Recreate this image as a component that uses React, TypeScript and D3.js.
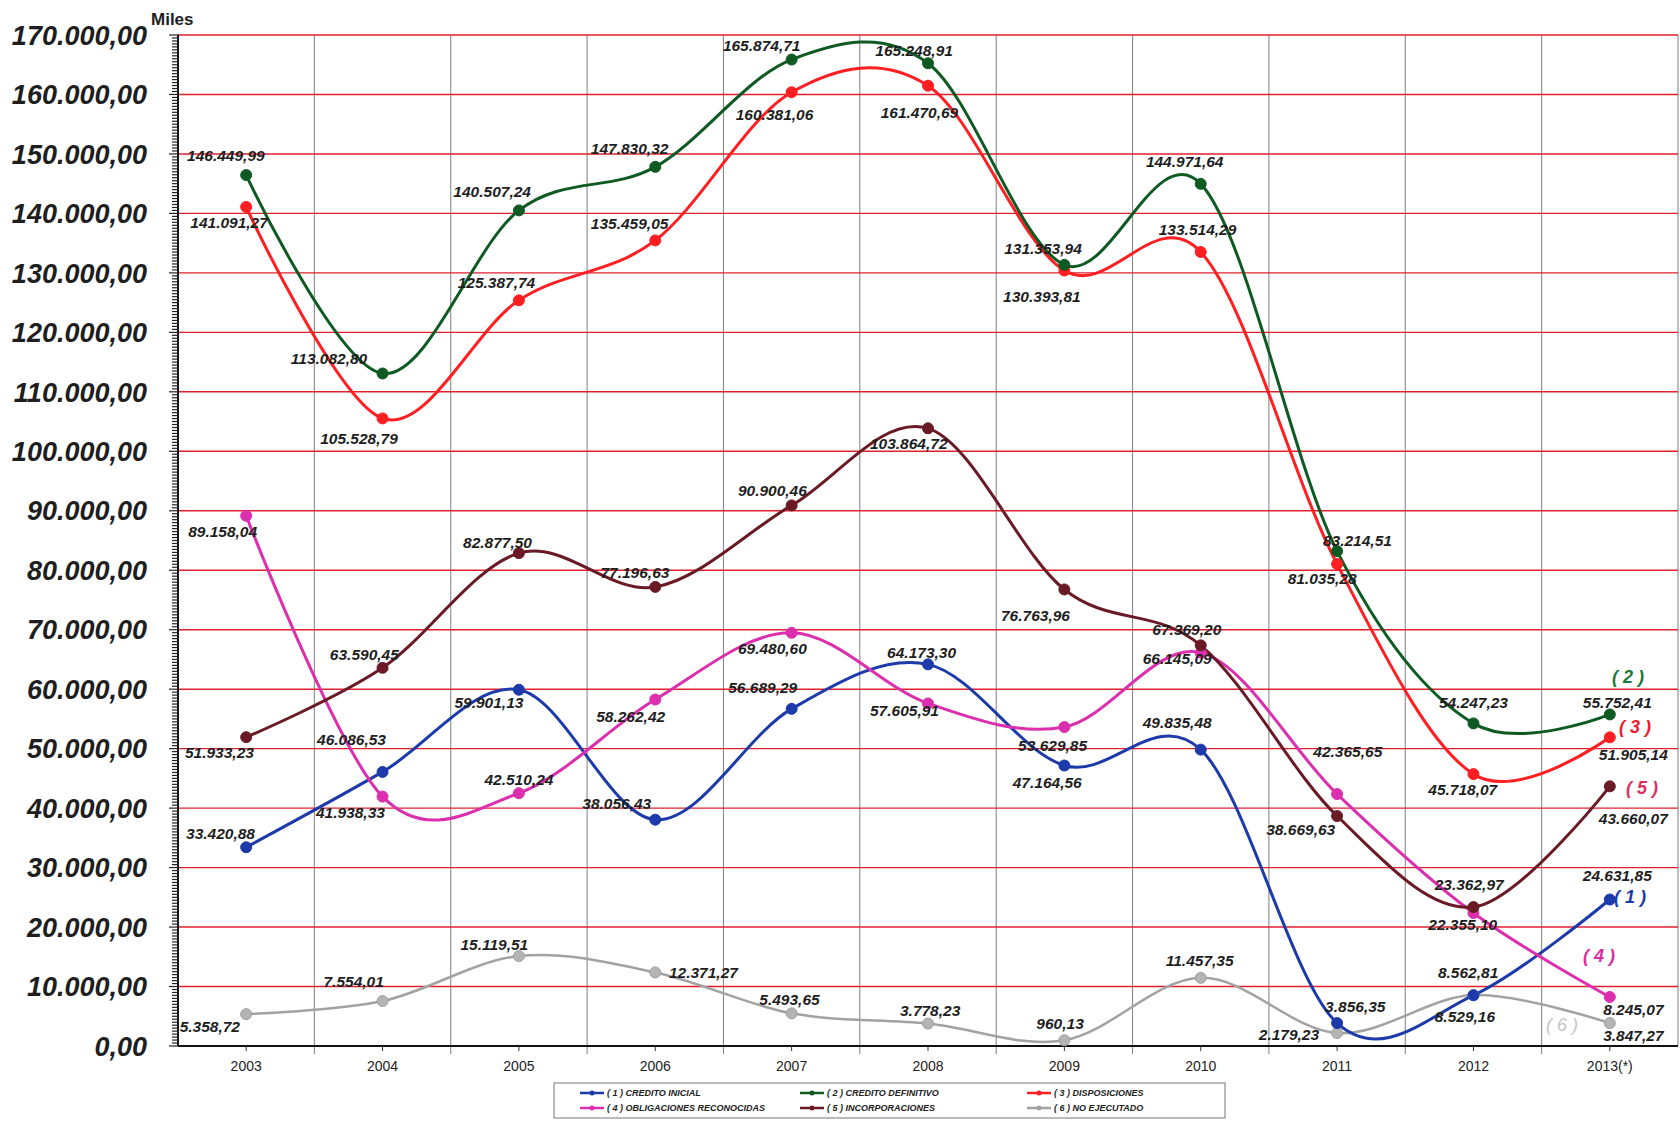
import React from "react";
import * as d3 from "d3";

// Categories (years) and the six series, in thousands of euros ("Miles")
const years = ["2003", "2004", "2005", "2006", "2007", "2008", "2009", "2010", "2011", "2012", "2013(*)"];

const creditoInicial = [33420.88, 46086.53, 59901.13, 38056.43, 56689.29, 64173.3, 47164.56, 49835.48, 3856.35, 8529.16, 24631.85];
const creditoDefinitivo = [146449.99, 113082.8, 140507.24, 147830.32, 165874.71, 165248.91, 131353.94, 144971.64, 83214.51, 54247.23, 55752.41];
const disposiciones = [141091.27, 105528.79, 125387.74, 135459.05, 160381.06, 161470.69, 130393.81, 133514.29, 81035.28, 45718.07, 51905.14];
const obligaciones = [89158.04, 41938.33, 42510.24, 58262.42, 69480.6, 57605.91, 53629.85, 66145.09, 42365.65, 22355.1, 8245.07];
const incorporaciones = [51933.23, 63590.45, 82877.5, 77196.63, 90900.46, 103864.72, 76763.96, 67369.2, 38669.63, 23362.97, 43660.07];
const noEjecutado = [5358.72, 7554.01, 15119.51, 12371.27, 5493.65, 3778.23, 960.13, 11457.35, 2179.23, 8562.81, 3847.27];

const seriesNames = [
  "( 1 ) CREDITO INICIAL",
  "( 2 ) CREDITO DEFINITIVO",
  "( 3 ) DISPOSICIONES",
  "( 4 ) OBLIGACIONES RECONOCIDAS",
  "( 5 ) INCORPORACIONES",
  "( 6 ) NO EJECUTADO",
];
const seriesTags = ["( 1 )", "( 2 )", "( 3 )", "( 4 )", "( 5 )", "( 6 )"];
const yTicks = d3.range(0, 170001, 10000);

// Placement of value labels relative to their point (dx, dy)
const offInicial = [[-24, -13], [-29, -30], [-28, 12], [-36, -15], [-27, -20], [-6, -11], [-16, 16], [-22, -25], [17, -15], [-8, 20], [7, -22]];
const offDefinitivo = [[-19, -18], [-50, -14], [-25, -18], [-24, -17], [-28, -13], [-13, -12], [-20, -15], [-15, -21], [19, -10], [0, -19], [7, -11]];
const offDisposiciones = [[-16, 15], [-22, 19], [-21, -17], [-24, -16], [-16, 21], [-8, 25], [-21, 24], [-3, -21], [-14, 14], [-10, 14], [22, 16]];
const offObligaciones = [[-22, 15], [-30, 15], [0, -13], [-23, 16], [-18, 15], [-22, 7], [-11, 17], [-22, 6], [10, -40], [-10, 11], [22, 12]];
const offIncorporaciones = [[-25, 14], [-17, -12], [-20, -10], [-19, -13], [-18, -14], [-18, 14], [-27, 24], [-13, -15], [-34, 13], [-4, -21], [22, 30]];
const offNoEjecutado = [[-34, 12], [-27, -18], [-23, -11], [45, 0], [-2, -13], [2, -12], [-4, -16], [-1, -16], [-45, 1], [-5, -21], [22, 12]];

// Series tag positions near the right edge
const tagPos = [[1630, 897], [1628, 677], [1635, 727], [1599, 956], [1642, 788], [1562, 1025]];

const W = 1680;
const H = 1121;
const left = 178;
const right = 1678;
const top = 35;
const bottom = 1046;
const K = 1.07;

const esLocale = d3.formatLocale({ decimal: ",", thousands: ".", grouping: [3], currency: ["", " €"] });
const fmt = esLocale.format(",.2f");

const FONT = "'Liberation Sans', Arial, Helvetica, sans-serif";

export default function App() {
  const x = d3.scaleBand<string>().domain(years).range([left, right]).padding(0);
  const bw = x.bandwidth();
  const cx = (i: number) => (x(years[i]) as number) + bw / 2;
  const y = d3.scaleLinear().domain([0, 170000]).range([bottom, top]);

  const series = [
    { values: creditoInicial, color: "#1c3aa9", off: offInicial, tag: "#1c3aa9", w: 3 },
    { values: creditoDefinitivo, color: "#0f5a23", off: offDefinitivo, tag: "#1a7a3a", w: 3 },
    { values: disposiciones, color: "#ff1e22", off: offDisposiciones, tag: "#ee1c2c", w: 3 },
    { values: obligaciones, color: "#dc2fae", off: offObligaciones, tag: "#d6309e", w: 3 },
    { values: incorporaciones, color: "#6a1a24", off: offIncorporaciones, tag: "#dc3060", w: 3 },
    { values: noEjecutado, color: "#a2a2a2", off: offNoEjecutado, tag: "#c4c4c4", w: 2.5 },
  ];
  const drawOrder = [5, 0, 3, 4, 2, 1];

  const line = d3
    .line<number>()
    .x((_, i) => cx(i))
    .y((d) => y(d))
    .curve(d3.curveCardinal.tension(0));

  const minorTicks = d3.range(0, 170001, 500);

  const legendCols = [580, 800, 1027];
  const legendRows = [1093, 1108];

  return (
    <svg width={W} height={H} style={{ position: "absolute", left: 0, top: 0, background: "#fff" }} fontFamily={FONT}>
      <rect x={0} y={0} width={W} height={H} fill="#fff" />
      {/* vertical category separators */}
      {years.map((yr, i) => (
        <line key={"v" + i} x1={(x(yr) as number) + bw} x2={(x(yr) as number) + bw} y1={top} y2={bottom + (i < years.length - 1 ? 8 : 0)} stroke="#8a8a8a" strokeWidth={1.1} />
      ))}
      {/* horizontal grid */}
      {yTicks.filter((t) => t > 0).map((t) => (
        <line key={"h" + t} x1={left} x2={right} y1={y(t)} y2={y(t)} stroke="#e0202e" strokeWidth={1.4} />
      ))}
      {/* y axis with minor ticks */}
      <line x1={left} x2={left} y1={top} y2={bottom} stroke="#111" strokeWidth={2} />
      {minorTicks.map((t) => (
        <line key={"m" + t} x1={left - (t % 10000 === 0 ? 9 : 6)} x2={left + 1} y1={y(t)} y2={y(t)} stroke="#222" strokeWidth={1.2} />
      ))}
      {yTicks.map((t) => (
        <text key={"yl" + t} x={147} y={y(t)} dy="0.36em" textAnchor="end" fontSize={27} fontWeight="bold" fontStyle="italic" fill="#1e1e1e">
          {fmt(t)}
        </text>
      ))}
      <text x={151} y={25} fontSize={17} fontWeight="bold" fill="#1e1e1e">Miles</text>
      {/* x axis */}
      <line x1={left} x2={right} y1={bottom} y2={bottom} stroke="#111" strokeWidth={2} />
      {years.map((yr, i) => (
        <g key={"xt" + i}>
          <line x1={cx(i)} x2={cx(i)} y1={bottom} y2={bottom + 5} stroke="#333" strokeWidth={1} />
          <text x={cx(i)} y={bottom + 25} textAnchor="middle" fontSize={14} fill="#222">{yr}</text>
        </g>
      ))}
      {/* series lines */}
      {drawOrder.map((s) => (
        <path key={"ln" + s} d={line(series[s].values) as string} fill="none" stroke={series[s].color} strokeWidth={series[s].w} strokeLinejoin="round" />
      ))}
      {/* markers */}
      {drawOrder.map((s) =>
        series[s].values.map((v, i) => (
          <circle key={"pt" + s + "-" + i} cx={cx(i)} cy={y(v)} r={5.5} fill={s === 5 ? "#b4b4b4" : series[s].color} stroke={s === 5 ? "#a0a0a0" : series[s].color} strokeWidth={1} />
        ))
      )}
      {/* value labels */}
      {series.map((sr, s) =>
        sr.values.map((v, i) => (
          <text
            key={"lb" + s + "-" + i}
            x={cx(i) + sr.off[i][0] * K}
            y={y(v) + sr.off[i][1] * K}
            dy="0.35em"
            textAnchor="middle"
            fontSize={15.5}
            fontWeight="bold"
            fontStyle="italic"
            fill="#1e1e1e"
          >
            {fmt(v)}
          </text>
        ))
      )}
      {/* series tags */}
      {series.map((sr, s) => (
        <text
          key={"tag" + s}
          x={tagPos[s][0]}
          y={tagPos[s][1]}
          dy="0.35em"
          textAnchor="middle"
          fontSize={18}
          fontWeight={s === 5 ? "normal" : "bold"}
          fontStyle="italic"
          fill={sr.tag}
        >
          {seriesTags[s]}
        </text>
      ))}
      {/* legend */}
      <rect x={554} y={1083} width={671} height={35} fill="#fff" stroke="#8c8c8c" strokeWidth={1.2} />
      {seriesNames.map((name, s) => {
        const lx = legendCols[s % 3];
        const ly = legendRows[Math.floor(s / 3)];
        return (
          <g key={"lg" + s}>
            <line x1={lx} x2={lx + 24} y1={ly} y2={ly} stroke={series[s].color} strokeWidth={2.5} />
            <circle cx={lx + 12} cy={ly} r={2.5} fill={series[s].color} />
            <text x={lx + 27} y={ly} dy="0.35em" fontSize={9} fontWeight="bold" fontStyle="italic" fill="#222">
              {name}
            </text>
          </g>
        );
      })}
    </svg>
  );
}
